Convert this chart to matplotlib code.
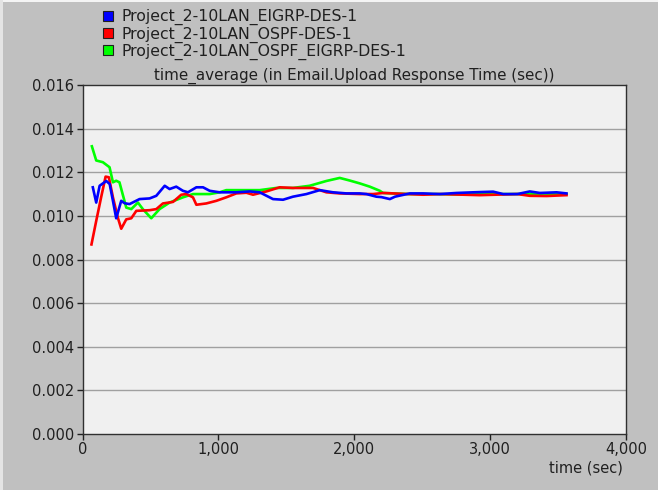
import matplotlib
matplotlib.use("Agg")
import matplotlib.pyplot as plt
from matplotlib.lines import Line2D
from matplotlib.patches import Rectangle

plt.rcParams['font.family'] = ['DejaVu Sans']

series_names = ["Project_2-10LAN_EIGRP-DES-1",
                "Project_2-10LAN_OSPF-DES-1",
                "Project_2-10LAN_OSPF_EIGRP-DES-1"]
series_colors = ["#0000ff", "#ff0000", "#00ff00"]

eigrp_t = [76, 101, 126, 175, 200, 224, 248, 285, 310, 346, 420, 494, 543, 605, 641, 690, 739, 776,
           838, 887, 936, 1009, 1132, 1230, 1304, 1402, 1476, 1549, 1648, 1746, 1844, 1942, 2040,
           2090, 2163, 2200, 2262, 2300, 2409, 2507, 2630, 2752, 2875, 3022, 3096, 3200, 3292,
           3366, 3489, 3562]
eigrp_v = [0.01131, 0.01061, 0.01138, 0.01160, 0.01146, 0.01069, 0.00989, 0.01069, 0.01058, 0.01054,
           0.01077, 0.01080, 0.01092, 0.01138, 0.01123, 0.01134, 0.01115, 0.01108,
           0.01131, 0.01131, 0.01115, 0.01108, 0.01108, 0.01112, 0.01108, 0.01077, 0.01074,
           0.01088, 0.01100, 0.01118, 0.01108, 0.01103, 0.01103,
           0.01100, 0.01088, 0.01086, 0.01077, 0.01088, 0.01103, 0.01103, 0.01100, 0.01105,
           0.01108, 0.01111, 0.01100, 0.01100, 0.01112, 0.01105, 0.01108, 0.01103]

ospf_t = [66, 101, 137, 170, 194, 224, 260, 285, 322, 359, 396, 494, 543, 592, 666, 727, 764, 813,
          838, 911, 985, 1058, 1132, 1206, 1255, 1353, 1451, 1549, 1697, 1795, 1893, 2040, 2139,
          2212, 2507, 2630, 2924, 3200, 3292, 3415, 3562]
ospf_v = [0.00869, 0.00977, 0.01085, 0.01180, 0.01177, 0.01085, 0.00992, 0.00941, 0.00984, 0.00989,
          0.01023, 0.01026, 0.01031, 0.01057, 0.01064, 0.01097, 0.01100, 0.01085,
          0.01051, 0.01057, 0.01069, 0.01085, 0.01103, 0.01106, 0.01097, 0.01112, 0.01131,
          0.01128, 0.01128, 0.01108, 0.01103, 0.01100, 0.01100,
          0.01105, 0.01097, 0.01100, 0.01095, 0.01100, 0.01092, 0.01091, 0.01095]

mix_t = [69, 101, 150, 199, 224, 248, 272, 322, 359, 408, 444, 506, 567, 641, 739, 813, 936, 1009,
         1058, 1181, 1304, 1426, 1549, 1672, 1795, 1893, 1967, 2040, 2114, 2188, 2212, 2400,
         2600, 2800, 3000, 3200, 3400, 3562]
mix_v = [0.01319, 0.01254, 0.01246, 0.01223, 0.01154, 0.01161, 0.01154, 0.01038, 0.01031, 0.01061,
         0.01031, 0.00989, 0.01031, 0.01061, 0.01085, 0.01100, 0.01100, 0.01108,
         0.01118, 0.01118, 0.01118, 0.01128, 0.01128, 0.01138, 0.01160, 0.01174, 0.01162,
         0.01149, 0.01134, 0.01115, 0.01105, 0.01100,
         0.01100, 0.01098, 0.01100, 0.01100, 0.01102, 0.01100]

x_ticks = [0, 1000, 2000, 3000, 4000]
x_labels = ["0", "1,000", "2,000", "3,000", "4,000"]
y_ticks = [0.000, 0.002, 0.004, 0.006, 0.008, 0.010, 0.012, 0.014, 0.016]
y_labels = ["0.000", "0.002", "0.004", "0.006", "0.008", "0.010", "0.012", "0.014", "0.016"]

W, H = 658, 490
fig = plt.figure(figsize=(W / 100, H / 100), dpi=100, facecolor="#c0c0c0")
fig.patches.append(Rectangle((0, 1 - 2 / H), 1, 2 / H, transform=fig.transFigure,
                             facecolor="#f4f4f4", edgecolor="none", zorder=0))
fig.patches.append(Rectangle((0, 0), 3 / W, 1, transform=fig.transFigure,
                             facecolor="#e4e4e4", edgecolor="none", zorder=0))

ax = fig.add_axes([82.5 / W, 56 / H, 543.5 / W, 349 / H])
ax.set_facecolor("#f0f0f0")

data = [(eigrp_t, eigrp_v), (ospf_t, ospf_v), (mix_t, mix_v)]
for i in [2, 1, 0]:
    t, v = data[i]
    ax.plot(t, v, color=series_colors[i], lw=1.9, zorder=3 + (2 - i))

ax.set_xlim(0, 4000)
ax.set_ylim(0, 0.016)
ax.set_xticks(x_ticks)
ax.set_xticklabels(x_labels)
ax.set_yticks(y_ticks)
ax.set_yticklabels(y_labels)
for yt in y_ticks[1:-1]:
    ax.axhline(yt, color="#a0a0a0", lw=1.0, zorder=1)
ax.tick_params(direction="out", length=4, width=1, colors="#202020", labelsize=10.5, pad=2)
for s in ax.spines.values():
    s.set_color("#303030")
    s.set_linewidth(1.0)

ax.set_title("time_average (in Email.Upload Response Time (sec))", fontsize=10.9,
             color="#202020", pad=4)
fig.text(623 / W, 1 - 468 / H, "time (sec)", ha="right", va="center", fontsize=10.5,
         color="#202020")

handles = [Line2D([0], [0], marker="s", linestyle="none", markersize=7,
                  markerfacecolor=c, markeredgecolor="#202020", markeredgewidth=0.8)
           for c in series_colors]
leg = fig.legend(handles, series_names, loc="upper left", bbox_to_anchor=(100 / W, 1 - 9 / H),
                 frameon=False, fontsize=11.3, handletextpad=0.35, labelspacing=0.08,
                 borderpad=0, handlelength=1.0, borderaxespad=0)
for txt in leg.get_texts():
    txt.set_color("#202020")

fig.savefig("out.png", dpi=100, facecolor=fig.get_facecolor())
